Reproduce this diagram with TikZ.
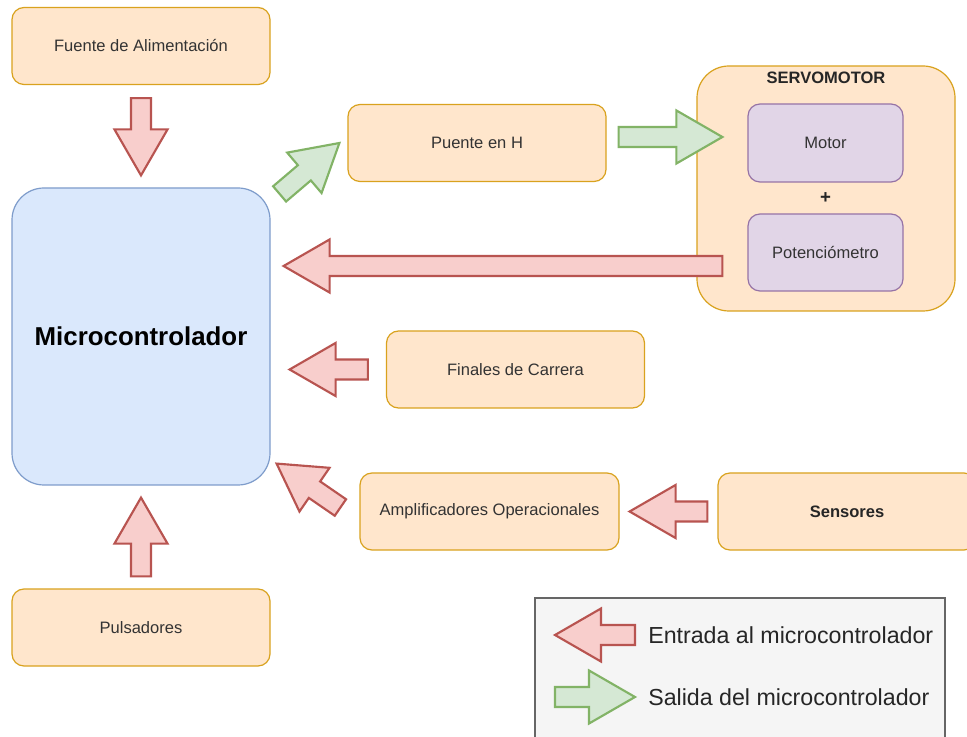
\documentclass[tikz,border=0pt]{standalone}
\usepackage{fontspec}
\setmainfont{Liberation Sans}
\usepackage{xcolor}
\usepackage{tikz}
\usetikzlibrary{
  positioning,
  calc
}

\definecolor{naranja}{HTML}{FFE6CC}
\definecolor{naranjaborde}{HTML}{D9A21E}
\definecolor{azul}{HTML}{DAE8FC}
\definecolor{azulborde}{HTML}{7E9CCB}
\definecolor{morado}{HTML}{E1D5E7}
\definecolor{moradoborde}{HTML}{9673A6}
\definecolor{rojo}{HTML}{F8CECC}
\definecolor{rojoborde}{HTML}{B85450}
\definecolor{verde}{HTML}{D5E8D4}
\definecolor{verdeborde}{HTML}{82B366}
\definecolor{grisfondo}{HTML}{F5F5F5}
\definecolor{grisborde}{HTML}{666666}
\definecolor{texto}{HTML}{333333}

% ブロック矢印の寸法
\def\fsw{7.5pt}
\def\fhw{19.9pt}
\def\fhl{34.5pt}

% 始点 #2 から先端 #3 までのブロック矢印
\newcommand{\flecha}[3][]{%
  \coordinate (fA) at (#2);
  \coordinate (fB) at (#3);
  \coordinate (fH) at ($(fB)!\fhl!(fA)$);
  \draw[#1] ($(fA)!\fsw!90:(fB)$) -- ($(fH)!\fsw!90:(fB)$) -- ($(fH)!\fhw!90:(fB)$)
    -- (fB) -- ($(fH)!\fhw!-90:(fB)$) -- ($(fH)!\fsw!-90:(fB)$) -- ($(fA)!\fsw!-90:(fB)$) -- cycle;}

\tikzset{
  caja/.style={draw=naranjaborde, fill=naranja, line width=0.9pt, rounded corners=9pt,
    minimum width=193.5pt, minimum height=57.75pt, text=texto,
    font=\fontsize{12.4}{15}\selectfont},
  interno/.style={caja, draw=moradoborde, fill=morado, minimum width=116.25pt, minimum height=58.5pt},
  entrada/.style={draw=rojoborde, fill=rojo, line width=1.6pt, line join=miter},
  salida/.style={draw=verdeborde, fill=verde, line width=1.6pt, line join=miter},
  leyendatexto/.style={inner sep=0pt, text=black!85, font=\fontsize{17.4}{20}\selectfont}
}

\begin{document}
\begin{tikzpicture}[x=0.75pt,y=-0.75pt]
  \clip (0,0) rectangle (967,737);
  \fill[white] (0,0) rectangle (967,737);

  % ブロック
  \node[caja] (fuente) at (141,46) {Fuente de Alimentación};
  \node[caja, draw=azulborde, fill=azul, rounded corners=24pt, minimum height=222.75pt,
    text=black, font=\fontsize{19.4}{23}\selectfont\bfseries] (micro) at (141,336.5) {Microcontrolador};
  \node[caja] (pulsadores) at (141,627.5) {Pulsadores};
  \node[caja] (puente) at (477,143) {Puente en H};
  \node[caja, rounded corners=24pt, minimum height=183.75pt] (servo) at (826,188.5) {};
  \node[caja, draw=none, fill=none, font=\fontsize{12.4}{15}\selectfont\bfseries, text=black!85]
    (servotit) at ($(servo.north)+(0,12)$) {SERVOMOTOR};
  \node[interno] (motor) at (825.5,143) {Motor};
  \node[interno, minimum height=57.75pt] (pot) at (825.5,252.5) {Potenciómetro};
  \node[font=\fontsize{14}{16}\selectfont\bfseries, text=black!85]
    (mas) at ($(motor.south)!0.5!(pot.north)$) {+};
  \node[caja] (finales) at (515.5,369.5) {Finales de Carrera};
  \node[caja, minimum width=194.25pt] (amp) at (489.5,511.5) {Amplificadores Operacionales};
  \node[caja, font=\fontsize{12.4}{15}\selectfont\bfseries, text=black!85] (sensores) at (847,511.5) {Sensores};

  % 入力と出力の矢印
  \flecha[entrada]{$(fuente.south)+(0,13)$}{$(micro.north)+(0,-12)$}
  \flecha[entrada]{$(pulsadores.north)+(0,-12)$}{$(micro.south)+(0,12)$}
  \flecha[salida]{$(micro.north east)+(9,6.5)$}{$(puente.west)+(-8,0)$}
  \flecha[salida]{$(puente.east)+(12,-6)$}{$(motor.west)+(-25,-6)$}
  \flecha[entrada]{$(pot.west)+(-25,13.5)$}{$(micro.east)+(13,-70.5)$}
  \flecha[entrada]{$(finales.west)+(-18,0)$}{$(micro.east |- finales.west)+(19,0)$}
  \flecha[entrada]{$(amp.west)+(-19,-4)$}{$(micro.south east)+(6,-22)$}
  \flecha[entrada]{$(sensores.west)+(-10,0)$}{$(amp.east)+(10,0)$}

  % 凡例
  \node[draw=grisborde, fill=grisfondo, line width=0.9pt, minimum width=307.5pt,
    minimum height=120pt] (leyenda) at (740,678) {};
  \node[leyendatexto, anchor=west] (tentrada) at (648,635) {Entrada al microcontrolador};
  \node[leyendatexto, anchor=west] (tsalida) at (648,697) {Salida del microcontrolador};
  \flecha[entrada]{$(tentrada.west)+(-13,0)$}{$(tentrada.west)+(-93,0)$}
  \flecha[salida]{$(tsalida.west)+(-93,0)$}{$(tsalida.west)+(-13,0)$}
\end{tikzpicture}
\end{document}
